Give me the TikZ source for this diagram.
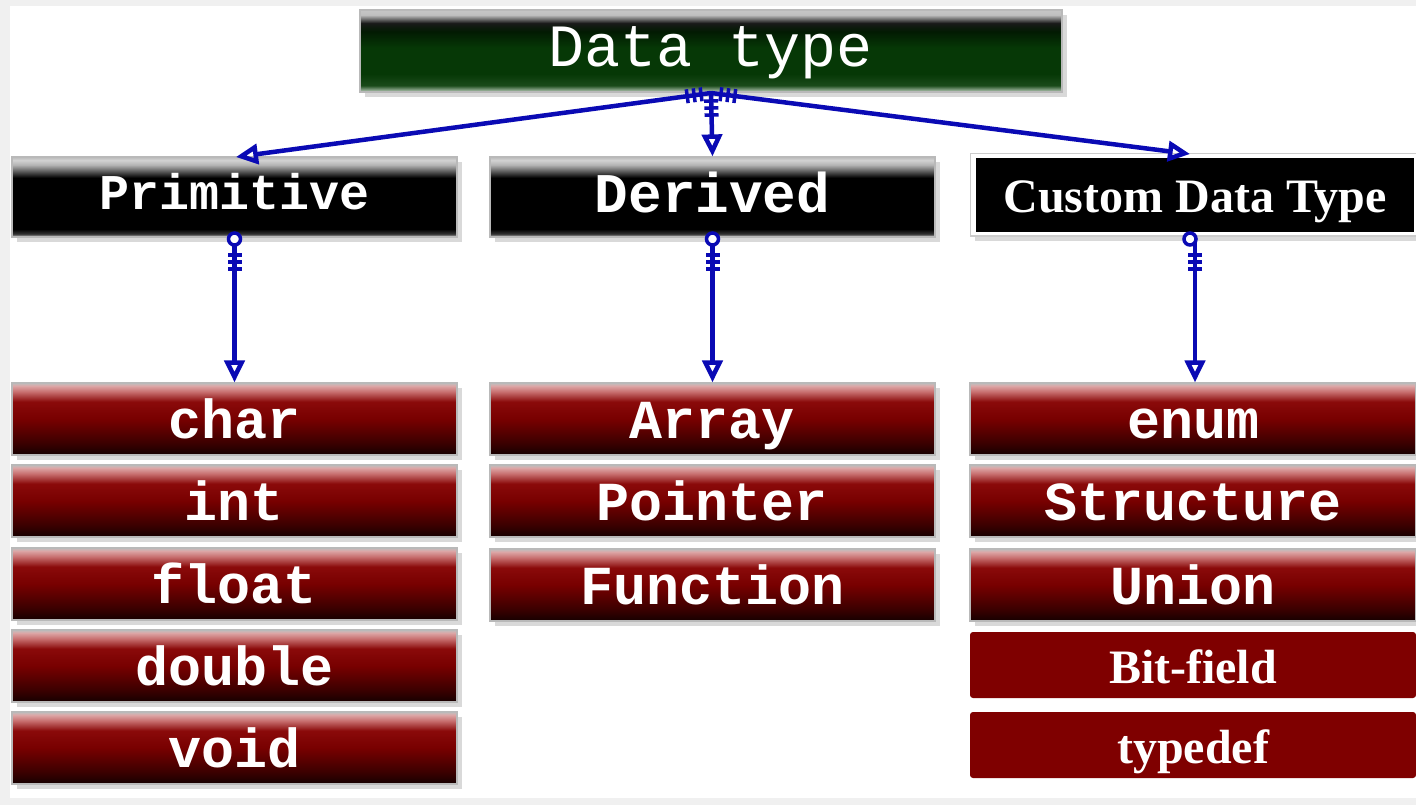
\documentclass[tikz,border=0pt]{standalone}
\usepackage{fontspec}
\newfontfamily\monofam{Liberation Mono}
\newfontfamily\seriffam{Liberation Serif}
\usetikzlibrary{arrows.meta,shadows,decorations.markings}
\definecolor{linkblue}{HTML}{0A0AB4}
\definecolor{plainred}{HTML}{7F0000}
\definecolor{rdA}{HTML}{1A0000}
\definecolor{rdB}{HTML}{3A0000}
\definecolor{rdC}{HTML}{780000}
\definecolor{rdD}{HTML}{8A0A0A}
\definecolor{rdE}{HTML}{C87070}
\definecolor{rdF}{HTML}{DCA6A6}
\definecolor{gnA}{HTML}{C0D0C0}
\definecolor{gnB}{HTML}{1A4A1A}
\definecolor{gnC}{HTML}{063806}
\definecolor{gnD}{HTML}{021A02}
\pgfdeclareverticalshading{redbar}{100bp}{color(0bp)=(gray!50); color(25bp)=(gray!50); color(26bp)=(rdA); color(33bp)=(rdB); color(50bp)=(rdC); color(62bp)=(rdD); color(69bp)=(rdE); color(73bp)=(rdF); color(75bp)=(gray!50); color(100bp)=(gray!50)}
\pgfdeclareverticalshading{blackbar}{100bp}{color(0bp)=(gray!50); color(25bp)=(gray!50); color(27bp)=(gray!40!black); color(30bp)=(black); color(62bp)=(black); color(70bp)=(gray!60); color(73bp)=(gray!35); color(75bp)=(gray!55); color(100bp)=(gray!55)}
\pgfdeclareverticalshading{greenbar}{100bp}{color(0bp)=(gnA); color(25bp)=(gnA); color(29bp)=(gnB); color(36bp)=(gnC); color(52bp)=(gnC); color(62bp)=(gnD); color(67bp)=(black!80!gray); color(72bp)=(gray!50); color(75bp)=(gray!45); color(100bp)=(gray!45)}
\tikzset{
  bar/.style={rectangle, inner sep=0pt, text=white, draw=gray!55, line width=1.2pt,
    drop shadow={shadow xshift=5pt, shadow yshift=-5pt, opacity=0.15, fill=black}},
  redrow/.style={bar, shading=redbar, minimum width=445pt, minimum height=72pt,
    text height=44pt, text depth=6pt, font=\monofam\bfseries\fontsize{55}{55}\selectfont},
  catbox/.style={bar, shading=blackbar, minimum width=445pt, minimum height=80pt,
    text height=36pt, text depth=10pt, font=\monofam\bfseries\fontsize{50}{50}\selectfont},
  topbox/.style={bar, shading=greenbar, minimum width=702pt, minimum height=82pt,
    text height=40pt, text depth=8pt, font=\monofam\fontsize{60}{60}\selectfont},
  serifbox/.style={rectangle, inner sep=0pt, text=white, text height=42pt, text depth=6pt,
    font=\seriffam\bfseries\fontsize{48}{48}\selectfont},
  conn/.style={draw=linkblue, line width=4.5pt, -{Triangle[open, length=22pt, width=20pt, line width=4.5pt]}},
  coils/.style={postaction={decorate, decoration={markings,
      mark=at position #1 with {\draw[-, linkblue, line width=3.5pt] (0,-7) -- (0,7);},
      mark=at position #1+7pt with {\draw[-, linkblue, line width=3.5pt] (0,-7) -- (0,7);},
      mark=at position #1+14pt with {\draw[-, linkblue, line width=3.5pt] (0,-7) -- (0,7);}}}},
}
\begin{document}
\begin{tikzpicture}[x=1pt, y=-1pt]
\useasboundingbox (0,0) rectangle (1416,805);
\fill[gray!12] (0,0) rectangle (1416,805);
\fill[white] (10,6) rectangle (1416,798);

\node[topbox] (dt) at (711,51) {Data type};

\node[catbox] (prim) at (234.5,197) {Primitive};
\node[catbox, text height=38pt, text depth=8pt, font=\monofam\bfseries\fontsize{56}{56}\selectfont] (der) at (712.5,197) {Derived};
\node[rectangle, fill=white, draw=gray!40, line width=1pt, minimum width=446pt, minimum height=82pt,
  drop shadow={shadow xshift=5pt, shadow yshift=-5pt, opacity=0.15, fill=black}] (cusf) at (1193,195) {};
\node[serifbox, fill=black, minimum width=438pt, minimum height=74pt, text height=40pt] (cus) at (1195,195) {Custom Data Type};

\node[redrow] (c1) at (234.5,419) {char};
\node[redrow] (c2) at (234.5,501) {int};
\node[redrow] (c3) at (234.5,584) {float};
\node[redrow] (c4) at (234.5,666) {double};
\node[redrow] (c5) at (234.5,748) {void};

\node[redrow] (d1) at (712.5,419) {Array};
\node[redrow] (d2) at (712.5,501) {Pointer};
\node[redrow] (d3) at (712.5,585) {Function};

\node[redrow, minimum width=446pt] (u1) at (1193,419) {enum};
\node[redrow, minimum width=446pt] (u2) at (1193,501) {Structure};
\node[redrow, minimum width=446pt] (u3) at (1193,585) {Union};
\node[serifbox, fill=plainred, rounded corners=3pt, minimum width=446pt, minimum height=66pt] (u4) at (1193,665) {Bit-field};
\node[serifbox, fill=plainred, rounded corners=3pt, minimum width=446pt, minimum height=66pt] (u5) at (1193,745) {typedef};

% connectors from Data type
\coordinate (hub) at (711,93);
\coordinate (tp) at (236,157);
\coordinate (tc) at (1190,154);
\draw[conn, coils=10pt] (hub) -- (tp);
\draw[conn, coils=8pt] (hub) -- (der.north);
\draw[conn, coils=10pt] (hub) -- (tc);

% vertical connectors
\foreach \a/\b in {prim/c1, der/d1, cus/u1}{
  \draw[conn, coils=16pt] (\a.south |- 0,239) -- (\a.south |- \b.north);
}
\foreach \x in {234.5,712.5,1190}{
  \draw[linkblue, line width=3.5pt, fill=white] (\x,239) circle (6);
}
\end{tikzpicture}
\end{document}
